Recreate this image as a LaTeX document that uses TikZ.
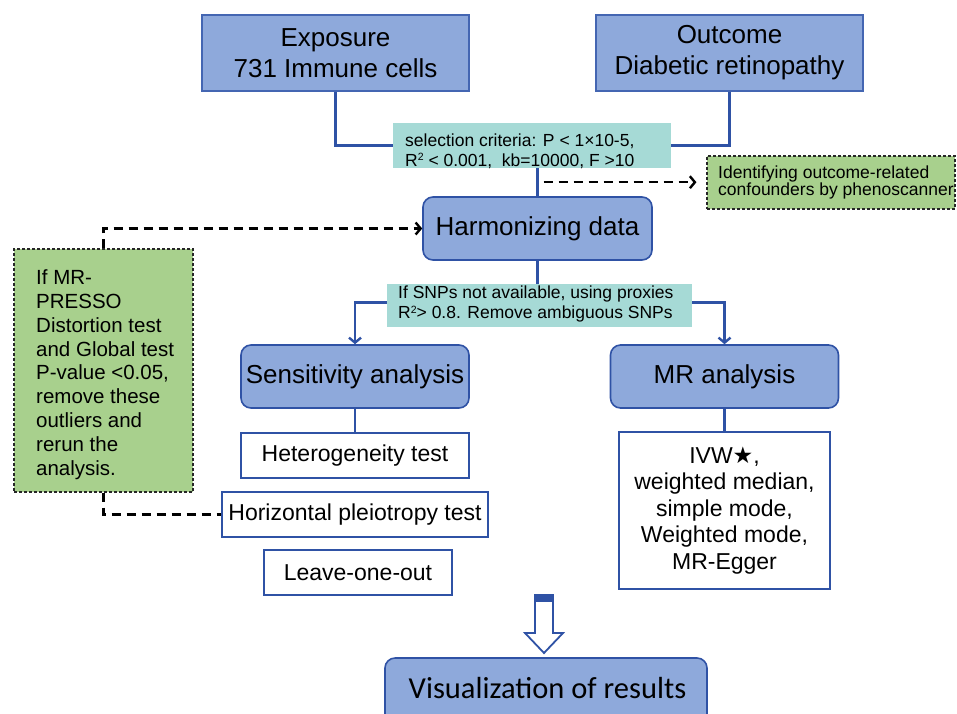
\documentclass[tikz,border=0pt]{standalone}
\usepackage{fontspec}
\setmainfont{Liberation Sans}
\newfontfamily\starfont{DejaVu Sans}
\newfontfamily\califont{Carlito}
\usetikzlibrary{arrows.meta,calc}
\definecolor{boxblue}{HTML}{8EA9DB}
\definecolor{edgeblue}{HTML}{4466B2}
\definecolor{lineblue}{HTML}{2F52A5}
\definecolor{tealfill}{HTML}{A6DAD6}
\definecolor{greenfill}{HTML}{A8D08D}
\newcommand{\suptwo}{\raisebox{5.5pt}{\fontsize{10.5}{10.5}\selectfont 2}}
\begin{document}
\begin{tikzpicture}[x=1pt,y=-1pt,
  topbox/.style={draw=edgeblue, line width=1.3pt, fill=boxblue, inner sep=0pt, align=center, font=\fontsize{26}{31}\selectfont},
  roundbox/.style={draw=lineblue, line width=1.6pt, fill=boxblue, rounded corners=10pt, inner sep=0pt, font=\fontsize{26}{31}\selectfont},
  tealbox/.style={fill=tealfill, inner sep=0pt},
  greenbox/.style={draw=black!85, dash pattern=on 3pt off 2pt, line width=1.1pt, fill=greenfill, inner sep=0pt},
  whitebox/.style={draw=lineblue, line width=2.2pt, fill=white, inner sep=0pt, align=center, font=\fontsize{23}{26.5}\selectfont},
  txt/.style={inner sep=0pt, align=left, anchor=north west},
  conn/.style={draw=lineblue, line width=2.4pt},
  barrow/.style={conn, -{Straight Barb[length=5pt, width=12pt, line width=2.4pt]}},
  dline/.style={draw=black, line width=2.4pt, dash pattern=on 9pt off 6pt},
  darrow/.style={dline, -{Straight Barb[length=5pt, width=12pt, line width=2.4pt]}},
]
\useasboundingbox (0,0) rectangle (957,713);
\clip (0,0) rectangle (957,713);

% top boxes
\node[topbox, minimum width=267, minimum height=76] (expo) at (335.5,53) {Exposure\\731 Immune cells};
\node[topbox, minimum width=267, minimum height=76] (outc) at (729.5,53) {Outcome\\Diabetic retinopathy};

% selection criteria
\node[tealbox, minimum width=278, minimum height=45] (sel) at (532,145.5) {};
\node[txt, font=\fontsize{17.5}{20}\selectfont] (seltxt) at (405,133.5) {selection criteria: P < 1×10-5,\\R\suptwo\ < 0.001,\ \ kb=10000, F >10};

\draw[conn] (expo.south) |- (sel.west);
\draw[conn] (outc.south) |- (sel.east);

% harmonizing
\node[roundbox, minimum width=229, minimum height=63] (harm) at (537.5,228.5) {Harmonizing data};
\draw[conn] (harm.north |- sel.south) -- (harm.north);

% confounders box
\node[greenbox, minimum width=248, minimum height=53] (conf) at (831,182.5) {};
\node[txt, font=\fontsize{17.5}{17}\selectfont] (conftxt) at (718,165.8) {Identifying outcome-related\\confounders by phenoscanner};
\coordinate (mid1) at ($(harm.north)!0.5!(harm.north |- sel.south)$);
\draw[darrow, shorten <=6pt, shorten >=10pt] (mid1) -- (mid1 -| conf.west);

% MR-PRESSO box
\node[greenbox, minimum width=179, minimum height=243] (mrp) at (103.5,370.5) {};
\node[txt, font=\fontsize{20.5}{23.8}\selectfont] (mrptxt) at (36,269.7) {If MR-\\PRESSO\\Distortion test\\and Global test\\P-value <0.05,\\remove these\\outliers and\\rerun the\\analysis.};
\draw[darrow] (mrp.north) |- (harm.west);

% SNP box
\node[tealbox, minimum width=305, minimum height=43] (snp) at (539.5,305.5) {};
\node[txt, font=\fontsize{17.5}{20}\selectfont] (snptxt) at (398,285.8) {If SNPs not available, using proxies\\R\suptwo> 0.8. Remove ambiguous SNPs};
\draw[conn] (harm.south) -- (harm.south |- snp.north);

% analysis boxes
\node[roundbox, minimum width=228, minimum height=63] (sens) at (355,376.5) {Sensitivity analysis};
\node[roundbox, minimum width=228, minimum height=63] (mr) at (724.5,376.5) {MR analysis};
\draw[barrow] ($(snp.west)+(0,-3)$) -| (sens.north);
\draw[barrow] ($(snp.east)+(0,-3)$) -| (mr.north);

% sensitivity tests
\node[whitebox, minimum width=228, minimum height=45] (het) at (355,455.5) {Heterogeneity test};
\node[whitebox, minimum width=266, minimum height=45] (pleio) at (355,514.5) {Horizontal pleiotropy test};
\node[whitebox, minimum width=188, minimum height=45] (loo) at (358,572.5) {Leave-one-out};
\draw[conn] (sens.south) -- (het.north);
\draw[dline] (mrp.south) |- (pleio.west);

% MR methods
\node[whitebox, minimum width=211, minimum height=157] (ivw) at (724.5,510.5) {IVW{\starfont ★},\\weighted median,\\simple mode,\\Weighted mode,\\MR-Egger};
\draw[conn] (mr.south) -- (ivw.north);

% hollow block arrow
\draw[draw=lineblue, line width=1.8pt, fill=white, line join=miter] (535,596) -- (553,596) -- (553,633) -- (563,633) -- (544,653) -- (525,633) -- (535,633) -- cycle;
\fill[lineblue] (534.1,594) rectangle (553.9,602);

% visualization
\node[roundbox, minimum width=322, minimum height=80] (vis) at (546,698) {};
\node[inner sep=0pt, anchor=base, font=\califont\fontsize{30.5}{36}\selectfont] (vistxt) at (547.5,698) {Visualization of results};
\end{tikzpicture}
\end{document}
